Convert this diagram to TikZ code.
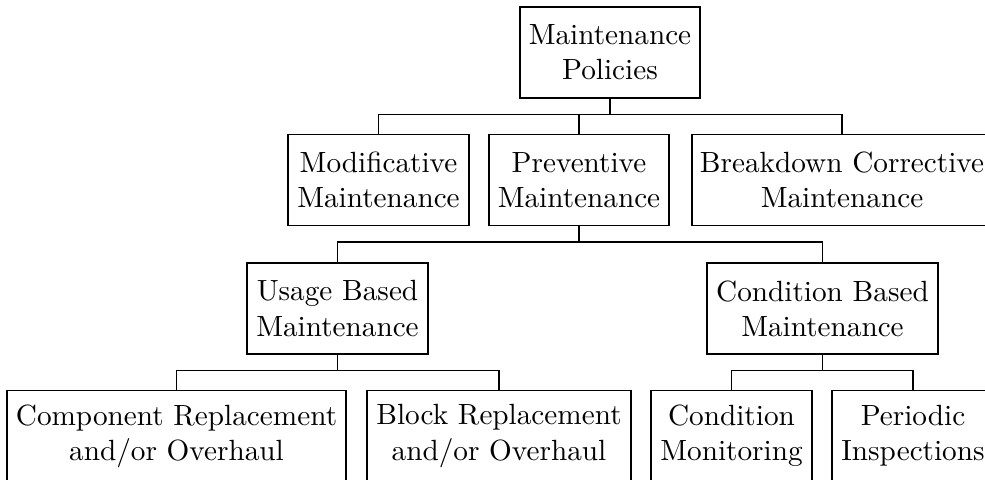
\documentclass[tikz,border=0pt]{standalone}
\newcommand{\pxu}{0.342pt}
\tikzset{
  box/.style={draw, rectangle, align=center, inner sep=0pt, line width=0.4pt,
    minimum height={91*\pxu}},
  fork/.style={draw, line width=0.4pt}
}
\begin{document}
\begin{tikzpicture}[x=\pxu, y=-\pxu]
  \useasboundingbox (0,0) rectangle (985,480);
  \clip (0,0) rectangle (985,480);

  % level 0
  \node[box, minimum width={180*\pxu}] (root) at (610,52.5) {Maintenance\\Policies};

  % level 1
  \node[box, minimum width={181*\pxu}] (mod) at (378.5,180) {Modificative\\Maintenance};
  \node[box, minimum width={180*\pxu}] (prev) at (579,180) {Preventive\\Maintenance};
  \node[box, minimum width={300*\pxu}] (brk) at (842,180) {Breakdown Corrective\\Maintenance};

  % level 2
  \node[box, minimum width={181*\pxu}] (usage) at (337.5,308.5) {Usage Based\\Maintenance};
  \node[box, minimum width={231*\pxu}] (cond) at (822.5,308.5) {Condition Based\\Maintenance};

  % level 3
  \node[box, minimum width={339*\pxu}] (comp) at (176.5,436) {Component Replacement\\and/or Overhaul};
  \node[box, minimum width={264*\pxu}] (block) at (499,436) {Block Replacement\\and/or Overhaul};
  \node[box, minimum width={161*\pxu}] (cmon) at (731.5,436) {Condition\\Monitoring};
  \node[box, minimum width={162*\pxu}] (peri) at (913,436) {Periodic\\Inspections};

  % forked connectors
  \foreach \p/\c in {root/mod, root/prev, root/brk,
                     prev/usage, prev/cond,
                     usage/comp, usage/block,
                     cond/cmon, cond/peri}
    \draw[fork] (\p.south) -- ++(0,16) -| (\c.north);
\end{tikzpicture}
\end{document}
